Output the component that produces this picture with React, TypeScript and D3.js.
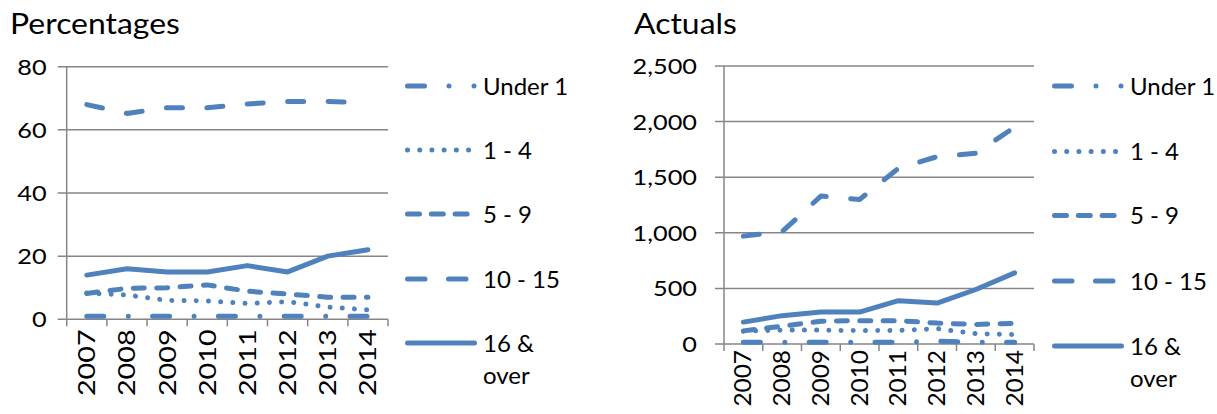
import React from 'react';
import * as d3 from 'd3';

const years = ['2007', '2008', '2009', '2010', '2011', '2012', '2013', '2014'];
const seriesNames = ['Under 1', '1 - 4', '5 - 9', '10 - 15', '16 & over'];

// Percentages
const pctUnder1 = [1, 1, 1, 1, 1, 1, 1, 1];
const pct1to4 = [8.3, 7.7, 6, 5.8, 5, 5.6, 3.9, 3];
const pct5to9 = [8.2, 9.8, 10, 10.9, 8.9, 8, 7, 7];
const pct10to15 = [68, 65.2, 67, 67, 68.2, 69, 69, 68.5];
const pct16over = [14, 16, 15, 15, 17, 15, 20, 22];
const pctTicks = [0, 20, 40, 60, 80];

// Actuals
const actUnder1 = [15, 15, 15, 15, 15, 25, 15, 15];
const act1to4 = [115, 125, 125, 120, 122, 138, 93, 86];
const act5to9 = [118, 160, 205, 210, 210, 188, 176, 186];
const act10to15 = [970, 1010, 1330, 1300, 1580, 1685, 1715, 1950];
const act16over = [197, 255, 287, 287, 390, 368, 490, 640];
const actTicks = [0, 500, 1000, 1500, 2000, 2500];

const BLUE = '#4F81BD';
const GRID = '#868686';
const FONT = 'Lato, "Open Sans", sans-serif';
const SW = 5;

const chartDash = ['17,24.5,0.01,24.3', '0.01,12.2', '11,12.4', '16,24.5', 'none'];
const legendDash = ['17,24.5,0.01,25,0.01,300', '0.01,12.2', '12,11.8', '17.5,23.5', 'none'];

type TProps = {
  x: number;
  y: number;
  size: number;
  sx?: number;
  rot?: number;
  anchor?: 'start' | 'end' | 'middle';
  children: React.ReactNode;
};

function T({ x, y, size, sx = 1, rot = 0, anchor = 'start', children }: TProps) {
  return (
    <text
      transform={`translate(${x},${y}) rotate(${rot}) scale(${sx},1)`}
      textAnchor={anchor}
      fontFamily={FONT}
      fontSize={size}
      fill="#000"
    >
      {children}
    </text>
  );
}

type ChartProps = {
  title: string;
  titleX: number;
  x0: number;
  x1: number;
  yTop: number;
  yBot: number;
  max: number;
  ticks: number[];
  tickGap: number;
  yearGap: number;
  yearSize: number;
  yearSx: number;
  data: number[][];
  legendX: number;
  legendRows: number[];
  overY: number;
  fmt: (v: number) => string;
};

function Chart(p: ChartProps) {
  const x = d3.scaleBand<string>().domain(years).range([p.x0, p.x1]);
  const y = d3.scaleLinear().domain([0, p.max]).range([p.yBot, p.yTop]);
  const line = d3
    .line<number>()
    .x((_, i) => (x(years[i]) as number) + x.bandwidth() / 2)
    .y((v) => y(v));
  const bounds = years.map((yr) => x(yr) as number).concat([p.x1]);
  return (
    <g>
      <T x={p.titleX} y={34} size={28} sx={1.14}>
        {p.title}
      </T>
      {p.ticks.map((t) => (
        <g key={t}>
          <line x1={p.x0 - 9} x2={p.x1} y1={y(t)} y2={y(t)} stroke={GRID} strokeWidth={1.5} />
          <T x={p.x0 - p.tickGap} y={y(t) + 8} size={22} sx={1.15} anchor="end">
            {p.fmt(t)}
          </T>
        </g>
      ))}
      <line x1={p.x0} x2={p.x0} y1={p.yTop} y2={p.yBot} stroke={GRID} strokeWidth={1.5} />
      {bounds.map((b, i) => (
        <line key={i} x1={b} x2={b} y1={p.yBot} y2={p.yBot + 7} stroke={GRID} strokeWidth={1.5} />
      ))}
      {years.map((yr) => {
        const cx = (x(yr) as number) + x.bandwidth() / 2;
        return (
          <T
            key={yr}
            x={cx + p.yearSize * 0.35}
            y={p.yBot + p.yearGap}
            size={p.yearSize}
            sx={p.yearSx}
            rot={-90}
            anchor="end"
          >
            {yr}
          </T>
        );
      })}
      {p.data.map((s, i) => (
        <path
          key={i}
          d={line(s) || ''}
          fill="none"
          stroke={BLUE}
          strokeWidth={SW}
          strokeLinecap="round"
          strokeLinejoin="round"
          strokeDasharray={chartDash[i]}
        />
      ))}
      {seriesNames.map((name, i) => {
        const ly = p.legendRows[i];
        const lx0 = p.legendX + SW / 2;
        const lx1 = p.legendX + 72 - SW / 2;
        const parts = name === '16 & over' ? ['16 &', 'over'] : [name];
        return (
          <g key={name}>
            <line
              x1={lx0}
              x2={lx1}
              y1={ly}
              y2={ly}
              stroke={BLUE}
              strokeWidth={SW}
              strokeLinecap="round"
              strokeDasharray={legendDash[i]}
            />
            <T x={p.legendX + 78} y={ly + 8.5} size={24}>
              {parts[0]}
            </T>
            {parts[1] && (
              <T x={p.legendX + 78} y={p.overY} size={24}>
                {parts[1]}
              </T>
            )}
          </g>
        );
      })}
    </g>
  );
}

export default function App() {
  const fmt = d3.format(',');
  return (
    <svg
      width={1217}
      height={414}
      style={{ position: 'absolute', left: 0, top: 0, background: '#fff' }}
    >
      <rect width={1217} height={414} fill="#fff" />
      <Chart
        title="Percentages"
        titleX={10}
        x0={66.7}
        x1={388}
        yTop={66.7}
        yBot={319.3}
        max={80}
        ticks={pctTicks}
        tickGap={20}
        yearGap={10}
        yearSize={24}
        yearSx={1.2}
        data={[pctUnder1, pct1to4, pct5to9, pct10to15, pct16over]}
        legendX={405}
        legendRows={[86, 150, 214, 279, 343]}
        overY={384}
        fmt={fmt}
      />
      <Chart
        title="Actuals"
        titleX={634}
        x0={724}
        x1={1034}
        yTop={66}
        yBot={344}
        max={2500}
        ticks={actTicks}
        tickGap={27}
        yearGap={6}
        yearSize={23}
        yearSx={1.06}
        data={[actUnder1, act1to4, act5to9, act10to15, act16over]}
        legendX={1052}
        legendRows={[86, 151.5, 215.5, 281, 346]}
        overY={387}
        fmt={fmt}
      />
    </svg>
  );
}
